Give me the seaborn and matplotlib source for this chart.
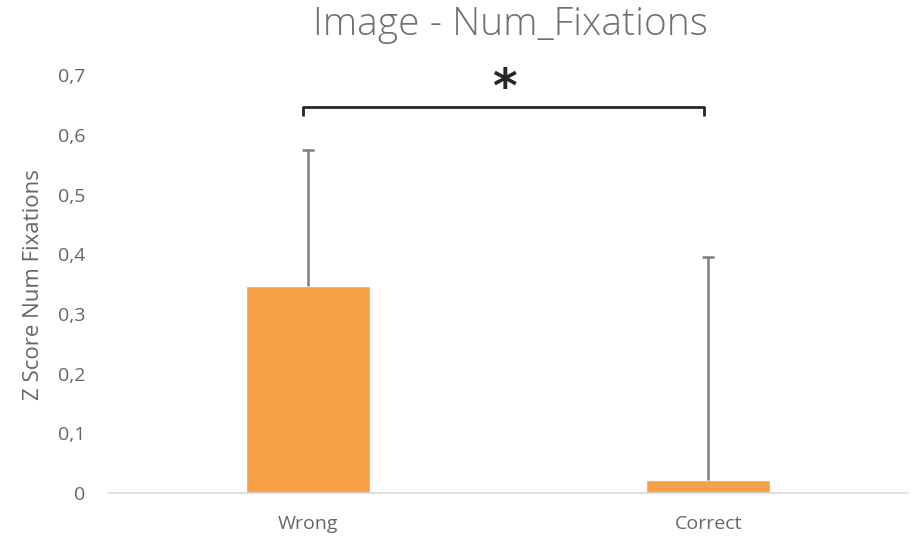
import matplotlib
matplotlib.use("Agg")
import matplotlib.pyplot as plt
import seaborn as sns
import pandas as pd
import numpy as np

categories = ["Wrong", "Correct"]
values = [0.347, 0.022]
errors = [0.228, 0.373]
yticks = [0, 0.1, 0.2, 0.3, 0.4, 0.5, 0.6, 0.7]
ytick_labels = ["0", "0,1", "0,2", "0,3", "0,4", "0,5", "0,6", "0,7"]

sns.set_theme(style="white")
plt.rcParams['font.family'] = ['Open Sans', 'DejaVu Sans']
txt = "#666666"

fig = plt.figure(figsize=(9.12, 5.37), dpi=100)
ax = fig.add_axes([0.118, 0.082, 0.878, 0.778])

df = pd.DataFrame({"cat": categories, "val": values})
sns.barplot(data=df, x="cat", y="val", color="#F79F47", saturation=1,
            width=0.31, ax=ax, errorbar=None)

xs = np.arange(len(categories))
tops = np.array(values) + np.array(errors)
ax.vlines(xs, values, tops, color="#7f7f7f", lw=1.8)
ax.hlines(tops, xs - 0.015, xs + 0.015, color="#7f7f7f", lw=1.8)

ax.set_ylim(0, 0.7)
ax.set_xlim(-0.5, 1.5)
ax.set_yticks(yticks)
ax.set_yticklabels(ytick_labels)
ax.tick_params(axis="both", length=0, colors=txt, labelsize=14)
ax.tick_params(axis="y", pad=16)
ax.tick_params(axis="x", pad=16)
ax.set_xlabel("")
ax.set_ylabel("Z Score Num Fixations", color=txt, fontsize=16, labelpad=10)
for s in ["top", "right", "left"]:
    ax.spines[s].set_visible(False)
ax.spines["bottom"].set_color("#d9d9d9")
ax.spines["bottom"].set_linewidth(1.2)

# significance bracket
yb = 0.647
ax.plot([-0.012, -0.012, 0.99, 0.99], [yb - 0.015, yb, yb, yb - 0.015],
        color="#262626", lw=2, clip_on=False, solid_capstyle="butt")
ax.text(0.49, yb - 0.008, "*", ha="center", va="bottom", fontsize=34,
        fontweight="bold", color="#262626", family="DejaVu Sans")

fig.text(0.56, 0.935, "Image - Num_Fixations", ha="center", va="baseline",
         color="#707070", fontsize=28, fontweight="light")

fig.savefig("out.png", dpi=100)
